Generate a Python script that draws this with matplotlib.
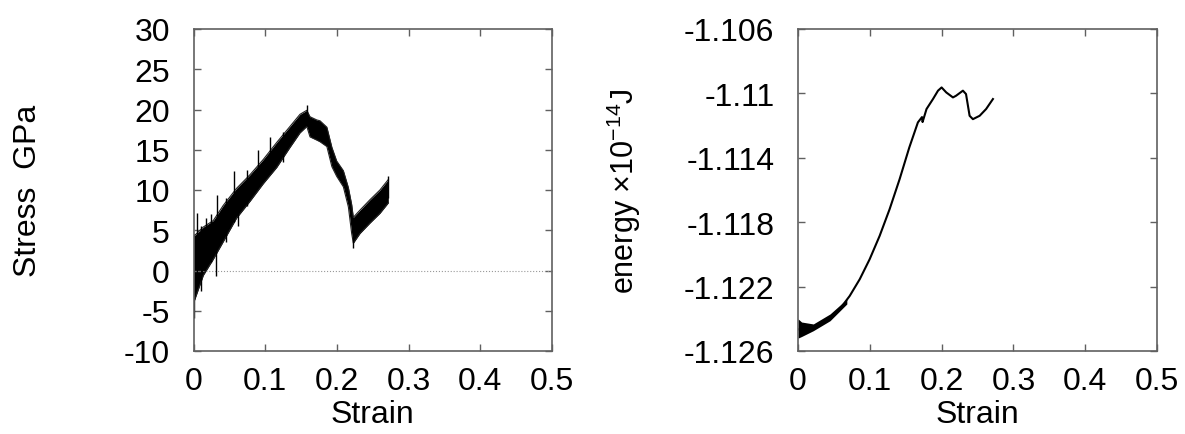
import matplotlib
matplotlib.use('Agg')
import matplotlib.pyplot as plt
import numpy as np

plt.rcParams['font.family'] = ['Liberation Sans', 'DejaVu Sans']
plt.rcParams['mathtext.fontset'] = 'custom'
plt.rcParams['mathtext.rm'] = 'Liberation Sans'
plt.rcParams['axes.unicode_minus'] = False

# Stress: dense core of the noisy trace (upper / lower edge)
strain_s = [0.001, 0.0137, 0.0276, 0.0416, 0.060, 0.0788, 0.0974, 0.116, 0.1346, 0.1485,
            0.158, 0.1625, 0.172, 0.1764, 0.186, 0.193, 0.1997, 0.209, 0.216, 0.2206,
            0.2229, 0.2322, 0.2462, 0.260, 0.2717]
stress_hi = [4.3, 5.4, 6.2, 8.1, 10.2, 11.9, 13.8, 15.9, 17.9, 19.4,
             19.9, 19.1, 18.7, 18.6, 17.8, 15.3, 13.6, 12.4, 10.3, 8.2,
             6.6, 7.5, 8.8, 10.0, 11.3]
stress_lo = [-3.8, -0.6, 1.4, 3.6, 6.5, 8.6, 10.8, 12.8, 15.3, 17.1,
             17.9, 16.6, 16.2, 16.0, 15.4, 12.9, 11.7, 10.4, 7.9, 4.6,
             3.4, 4.6, 5.9, 7.1, 8.4]

# Stress: isolated spikes sticking out of the core (strain, low end, high end)
spike_x = [0.001, 0.0053, 0.010, 0.018, 0.024, 0.032, 0.033, 0.045, 0.057, 0.0625,
           0.075, 0.090, 0.107, 0.125, 0.1587, 0.2229, 0.2717]
spike_lo = [-5.9, -1.0, -2.5, 0.5, 1.0, -0.7, 3.0, 3.5, 6.0, 5.5,
            8.0, 11.0, 13.0, 13.5, 18.0, 2.8, 9.0]
spike_hi = [4.5, 7.1, 5.5, 6.5, 7.0, 5.0, 9.4, 9.0, 12.3, 9.0,
            12.5, 15.0, 16.6, 17.2, 20.6, 6.0, 11.7]

# Energy trace
strain_e = [0.0, 0.0116, 0.0255, 0.044, 0.058, 0.072, 0.086, 0.0998, 0.1137, 0.1276,
            0.1415, 0.155, 0.167, 0.1727, 0.1735, 0.179, 0.188, 0.195, 0.200, 0.2065,
            0.2158, 0.220, 0.2297, 0.234, 0.239, 0.2436, 0.253, 0.262, 0.2715]
energy = [-1.12466, -1.12455, -1.12445, -1.12393, -1.12341, -1.12258, -1.12154, -1.1203,
          -1.11885, -1.11719, -1.11533, -1.11336, -1.11180, -1.11147, -1.11178, -1.11097,
          -1.11035, -1.10983, -1.10963, -1.10994, -1.11025, -1.11015, -1.10983, -1.11004,
          -1.11139, -1.1116, -1.11139, -1.11097, -1.11035]
# noisy start of the energy trace
strain_e0 = [0.0, 0.005, 0.0213, 0.0446, 0.068]
energy_hi0 = [-1.1240, -1.1242, -1.12432, -1.1237, -1.12277]
energy_lo0 = [-1.1252, -1.1251, -1.12474, -1.12412, -1.12308]

fig = plt.figure(figsize=(11.85, 4.35), dpi=100)
W, H = 1185.0, 435.0
ax1 = fig.add_axes([193.5 / W, 1 - 352 / H, 358.5 / W, 322 / H])
ax2 = fig.add_axes([798 / W, 1 - 352 / H, 359 / W, 322 / H])

fs = 23
frame = '#606060'
for ax in (ax1, ax2):
    ax.set_xlim(0, 0.5)
    ax.set_xticks([0, 0.1, 0.2, 0.3, 0.4, 0.5])
    ax.set_xticklabels(['0', '0.1', '0.2', '0.3', '0.4', '0.5'])
    for s in ax.spines.values():
        s.set_color(frame)
        s.set_linewidth(1.2)
    ax.tick_params(direction='in', length=5, width=1, color=frame, top=True, right=True,
                   labelsize=fs)
    ax.tick_params(axis='x', pad=11)
    ax.tick_params(axis='y', pad=17)
    ax.set_xlabel('Strain', fontsize=fs, labelpad=2)

# left: stress
ax1.axhline(0, color='#999999', lw=0.8, ls=':')
ax1.fill_between(strain_s, stress_lo, stress_hi, color='black', lw=0)
ax1.plot(strain_s, stress_hi, color='#222222', lw=0.8)
ax1.plot(strain_s, stress_lo, color='#222222', lw=0.8)
ax1.vlines(spike_x, spike_lo, spike_hi, color='black', lw=1.0)
ax1.set_ylim(-10, 30)
ax1.set_yticks(range(-10, 31, 5))
ax1.set_ylabel('Stress  GPa', fontsize=fs)
ax1.yaxis.set_label_coords(-0.42, 0.5)

# right: energy
ax2.fill_between(strain_e0, energy_lo0, energy_hi0, color='black', lw=0)
ax2.plot(strain_e, energy, color='black', lw=1.5)
ax2.set_ylim(-1.126, -1.106)
ax2.set_yticks([-1.126, -1.122, -1.118, -1.114, -1.11, -1.106])
ax2.set_yticklabels(['-1.126', '-1.122', '-1.118', '-1.114', '-1.11', '-1.106'])
ax2.set_ylabel(r'energy $\times$10$^{-14}$J', fontsize=22)
ax2.yaxis.set_label_coords(-0.432, 0.5)

fig.savefig('out.png', dpi=100)
